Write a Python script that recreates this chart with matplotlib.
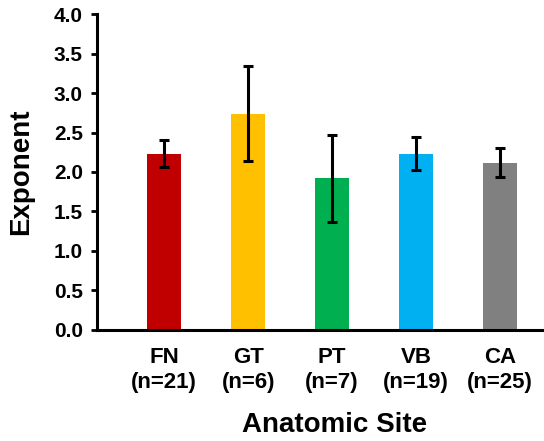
import matplotlib.pyplot as plt

plt.rcParams['font.family'] = ['Liberation Sans', 'DejaVu Sans']
plt.rcParams['font.weight'] = 'bold'

## Data
sites = ["FN", "GT", "PT", "VB", "CA"]
counts = [21, 6, 7, 19, 25]
exponent = [2.23, 2.74, 1.92, 2.23, 2.12]
err = [0.17, 0.60, 0.55, 0.21, 0.18]
colors = ["#C00000", "#FFC000", "#00B050", "#00B0F0", "#808080"]

labels = [s + "\n(n=" + str(n) + ")" for s, n in zip(sites, counts)]

fig = plt.figure(figsize=(5.44, 4.41), dpi=100)
ax = fig.add_axes([0.178, 0.252, 0.822, 0.716])

ax.bar(range(len(sites)), exponent, width=0.4, color=colors,
       yerr=err, capsize=3.5, error_kw={"elinewidth": 2.2, "capthick": 2.2, "ecolor": "black"})

ax.set_xlim(-0.8, 4.52)
ax.set_ylim(0, 4.0)
ax.set_yticks([0, 0.5, 1.0, 1.5, 2.0, 2.5, 3.0, 3.5, 4.0])
ax.set_yticklabels(["%.1f" % v for v in ax.get_yticks()], fontsize=15, fontweight="bold")
ax.set_xticks(range(len(sites)))
ax.set_xticklabels(labels, fontsize=16, fontweight="bold", linespacing=1.3)
ax.tick_params(axis="x", length=0, pad=12)
ax.tick_params(axis="y", length=4, width=2, direction="out", pad=6)

for side in ["top", "right"]:
    ax.spines[side].set_visible(False)
for side in ["left", "bottom"]:
    ax.spines[side].set_linewidth(2.2)

ax.set_ylabel("Exponent", fontsize=20, fontweight="bold", labelpad=14)
ax.set_xlabel("Anatomic Site", fontsize=20, fontweight="bold", labelpad=14)
ax.xaxis.set_label_coords(0.532, -0.26)

plt.savefig("out.png", dpi=100)
